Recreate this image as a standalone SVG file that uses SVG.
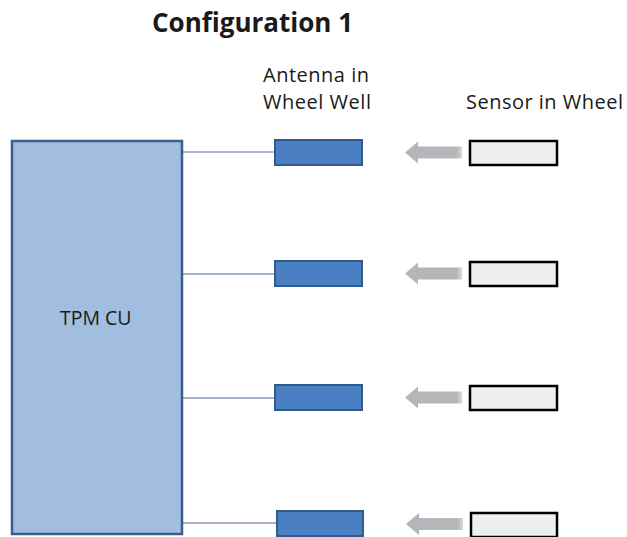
<svg xmlns="http://www.w3.org/2000/svg" width="627" height="537" viewBox="0 0 627 537">
<defs>
<style>
.t{font-family:"Open Sans","Liberation Sans",sans-serif;fill:#1a1a1a}
.lbl{font-size:20px}
.ant{fill:#4a7fc1;stroke:#2f5b8e;stroke-width:2}
.sen{fill:#efefef;stroke:#000;stroke-width:2.5}
.ln{stroke:#4d6f9b;stroke-width:1.2;fill:none}
</style>
<linearGradient id="ag" x1="0" x2="1" y1="0" y2="0">
<stop offset="0.9" stop-color="#b4b6b9"/>
<stop offset="1" stop-color="#d8d9db"/>
</linearGradient>
<g id="arrowShape"><path d="M0 0 L13 -11 L13 -6 L57 -6 L57 6 L13 6 L13 11 Z" fill="url(#ag)"/></g>
</defs>
<rect width="627" height="537" fill="#fff"/>
<text class="t" x="152" y="32" font-size="26" font-weight="bold" textLength="201">Configuration 1</text>
<text class="t lbl" x="263" y="82" textLength="106">Antenna in</text>
<text class="t lbl" x="263" y="109" textLength="108">Wheel Well</text>
<text class="t lbl" x="466" y="109" textLength="157">Sensor in Wheel</text>
<g id="connectors">
<line class="ln" x1="182" y1="152" x2="275" y2="152"/>
<line class="ln" x1="182" y1="274" x2="275" y2="274"/>
<line class="ln" x1="182" y1="398" x2="275" y2="398"/>
<line class="ln" x1="182" y1="523" x2="277" y2="523"/>
<use href="#arrowShape" x="405" y="152.5"/>
<use href="#arrowShape" x="405" y="273.5"/>
<use href="#arrowShape" x="405" y="397.5"/>
<use href="#arrowShape" x="406" y="524"/>
</g>
<g id="tpmcu">
<rect x="12" y="141" width="170" height="393" fill="#a1bee0" stroke="#3b5f8a" stroke-width="2.5"/>
<text class="t" x="60" y="325" font-size="19.5">TPM CU</text>
</g>
<g id="antenna1"><rect class="ant" x="275" y="140" width="87" height="25"/></g>
<g id="antenna2"><rect class="ant" x="275" y="261" width="87" height="25"/></g>
<g id="antenna3"><rect class="ant" x="275" y="385" width="87" height="25"/></g>
<g id="antenna4"><rect class="ant" x="277" y="511" width="86" height="25"/></g>
<g id="sensor1"><rect class="sen" x="470" y="141" width="87" height="24"/></g>
<g id="sensor2"><rect class="sen" x="470" y="262" width="87" height="24"/></g>
<g id="sensor3"><rect class="sen" x="470" y="386" width="87" height="24"/></g>
<g id="sensor4"><rect class="sen" x="471" y="513" width="86" height="24"/></g>
</svg>
